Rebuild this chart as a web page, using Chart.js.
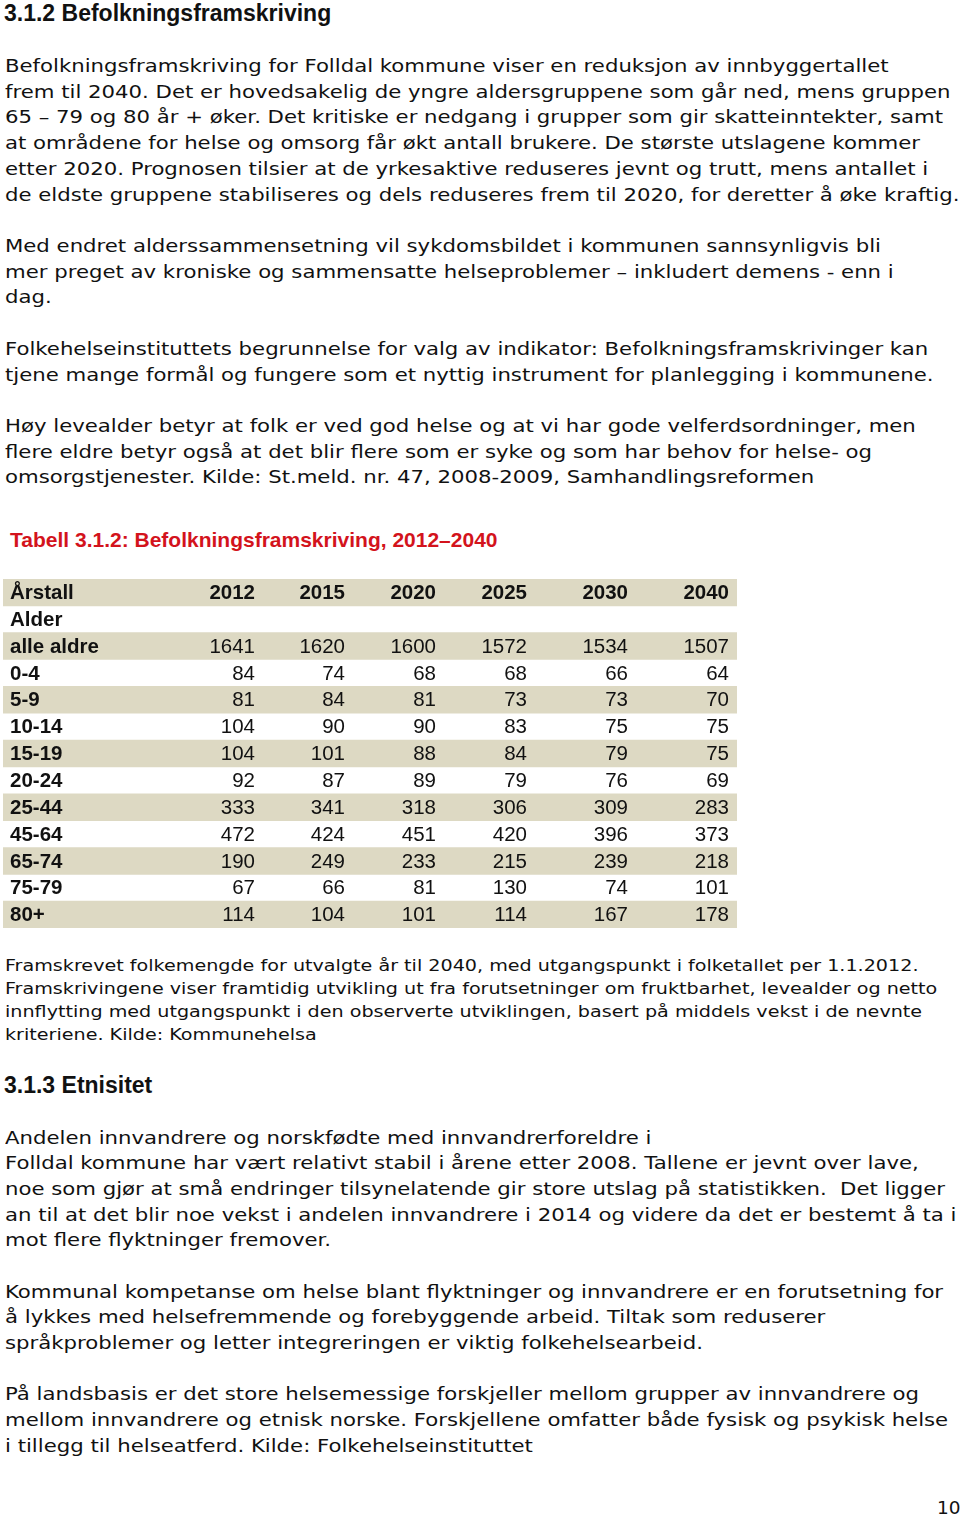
<!DOCTYPE html>
<html lang="no">
<head>
<meta charset="utf-8">
<script src="https://cdn.jsdelivr.net/npm/chart.js@4"></script>
<style>
  html, body { margin: 0; padding: 0; background: #fff; }
  body { width: 960px; height: 1518px; position: relative; overflow: hidden; }
  .ln { position: absolute; left: 5px; white-space: nowrap; font-family: "DejaVu Sans", Verdana, sans-serif; font-size: 18.5px; line-height: 26px; color: #111; transform: scaleX(1.147); transform-origin: 0 50%; }
  .sm { font-size: 16.5px; line-height: 23px; transform: scaleX(1.16); }
  .h { position: absolute; left: 4px; white-space: nowrap; font-family: "Liberation Sans", Arial, sans-serif; font-weight: bold; font-size: 23px; line-height: 28px; color: #111; }
  .cap { position: absolute; left: 10px; white-space: nowrap; font-family: "Liberation Sans", Arial, sans-serif; font-weight: bold; font-size: 21px; line-height: 26px; color: #d3131c; }
  #tbl { position: absolute; left: 3px; top: 579px; width: 734px; height: 349px; }
</style>
</head>
<body>
<div class="h" style="top:-1px">3.1.2 Befolkningsframskriving</div>

<div class="ln" style="top:53px">Befolkningsframskriving for Folldal kommune viser en reduksjon av innbyggertallet</div>
<div class="ln" style="top:79px">frem til 2040. Det er hovedsakelig de yngre aldersgruppene som går ned, mens gruppen</div>
<div class="ln" style="top:104px">65 – 79 og 80 år + øker. Det kritiske er nedgang i grupper som gir skatteinntekter, samt</div>
<div class="ln" style="top:130px">at områdene for helse og omsorg får økt antall brukere. De største utslagene kommer</div>
<div class="ln" style="top:156px">etter 2020. Prognosen tilsier at de yrkesaktive reduseres jevnt og trutt, mens antallet i</div>
<div class="ln" style="top:182px">de eldste gruppene stabiliseres og dels reduseres frem til 2020, for deretter å øke kraftig.</div>

<div class="ln" style="top:233px">Med endret alderssammensetning vil sykdomsbildet i kommunen sannsynligvis bli</div>
<div class="ln" style="top:259px">mer preget av kroniske og sammensatte helseproblemer – inkludert demens - enn i</div>
<div class="ln" style="top:284px">dag.</div>

<div class="ln" style="top:336px">Folkehelseinstituttets begrunnelse for valg av indikator: Befolkningsframskrivinger kan</div>
<div class="ln" style="top:362px">tjene mange formål og fungere som et nyttig instrument for planlegging i kommunene.</div>

<div class="ln" style="top:413px">Høy levealder betyr at folk er ved god helse og at vi har gode velferdsordninger, men</div>
<div class="ln" style="top:439px">flere eldre betyr også at det blir flere som er syke og som har behov for helse- og</div>
<div class="ln" style="top:464px">omsorgstjenester. Kilde: St.meld. nr. 47, 2008-2009, Samhandlingsreformen</div>

<div class="cap" style="top:527px">Tabell 3.1.2: Befolkningsframskriving, 2012–2040</div>

<div id="tbl"><canvas id="tableChart"></canvas></div>

<div class="ln sm" style="top:954px">Framskrevet folkemengde for utvalgte år til 2040, med utgangspunkt i folketallet per 1.1.2012.</div>
<div class="ln sm" style="top:977px">Framskrivingene viser framtidig utvikling ut fra forutsetninger om fruktbarhet, levealder og netto</div>
<div class="ln sm" style="top:1000px">innflytting med utgangspunkt i den observerte utviklingen, basert på middels vekst i de nevnte</div>
<div class="ln sm" style="top:1023px">kriteriene. Kilde: Kommunehelsa</div>

<div class="h" style="top:1071px">3.1.3 Etnisitet</div>

<div class="ln" style="top:1125px">Andelen innvandrere og norskfødte med innvandrerforeldre i</div>
<div class="ln" style="top:1150px">Folldal kommune har vært relativt stabil i årene etter 2008. Tallene er jevnt over lave,</div>
<div class="ln" style="top:1176px">noe som gjør at små endringer tilsynelatende gir store utslag på statistikken.&nbsp; Det ligger</div>
<div class="ln" style="top:1202px">an til at det blir noe vekst i andelen innvandrere i 2014 og videre da det er bestemt å ta i</div>
<div class="ln" style="top:1227px">mot flere flyktninger fremover.</div>

<div class="ln" style="top:1279px">Kommunal kompetanse om helse blant flyktninger og innvandrere er en forutsetning for</div>
<div class="ln" style="top:1304px">å lykkes med helsefremmende og forebyggende arbeid. Tiltak som reduserer</div>
<div class="ln" style="top:1330px">språkproblemer og letter integreringen er viktig folkehelsearbeid.</div>

<div class="ln" style="top:1381px">På landsbasis er det store helsemessige forskjeller mellom grupper av innvandrere og</div>
<div class="ln" style="top:1407px">mellom innvandrere og etnisk norske. Forskjellene omfatter både fysisk og psykisk helse</div>
<div class="ln" style="top:1433px">i tillegg til helseatferd. Kilde: Folkehelseinstituttet</div>

<div class="ln" style="top:1495px; left:937px; transform:none">10</div>

<script>
// ── Data ──────────────────────────────────────────────────────────────────
const years = ['2012', '2015', '2020', '2025', '2030', '2040'];
const ageGroups = ['alle aldre', '0-4', '5-9', '10-14', '15-19', '20-24', '25-44', '45-64', '65-74', '75-79', '80+'];
const pop2012 = [1641, 84, 81, 104, 104, 92, 333, 472, 190, 67, 114];
const pop2015 = [1620, 74, 84, 90, 101, 87, 341, 424, 249, 66, 104];
const pop2020 = [1600, 68, 81, 90, 88, 89, 318, 451, 233, 81, 101];
const pop2025 = [1572, 68, 73, 83, 84, 79, 306, 420, 215, 130, 114];
const pop2030 = [1534, 66, 73, 75, 79, 76, 309, 396, 239, 74, 167];
const pop2040 = [1507, 64, 70, 75, 75, 69, 283, 373, 218, 101, 178];
const series = [pop2012, pop2015, pop2020, pop2025, pop2030, pop2040];

// ── Table layout (rows on the y category scale) ───────────────────────────
const rowLabels = ['Årstall', 'Alder'].concat(ageGroups);
const rows = rowLabels.map((label, i) => {
  if (i === 0) return { label, cells: years, bold: true };
  if (i === 1) return { label, cells: [], bold: true };
  return { label, cells: series.map(s => String(s[i - 2])), bold: false };
});

const TABLE_W = 734;
const colRight = [252, 342, 433, 524, 625, 726];   // x positions in scale units
const labelLeft = 7;
const bandColor = '#ddd9c3';
const fontFam = '"Liberation Sans", Arial, sans-serif';

const cellText = {
  id: 'cellText',
  afterDatasetsDraw(chart) {
    const { ctx, scales: { x, y } } = chart;
    ctx.save();
    ctx.textBaseline = 'middle';
    ctx.fillStyle = '#111';
    rows.forEach((r, i) => {
      const py = y.getPixelForValue(i) + 1;
      ctx.font = 'bold 20.5px ' + fontFam;
      ctx.textAlign = 'left';
      ctx.fillText(r.label, x.getPixelForValue(labelLeft), py);
      ctx.font = (r.bold ? 'bold ' : '') + '20.5px ' + fontFam;
      ctx.textAlign = 'right';
      r.cells.forEach((c, j) => ctx.fillText(c, x.getPixelForValue(colRight[j]), py));
    });
    ctx.restore();
  }
};

new Chart(document.getElementById('tableChart'), {
  type: 'bar',
  data: {
    labels: rowLabels,
    datasets: [{
      data: rowLabels.map((_, i) => (i % 2 === 0 ? TABLE_W : null)),
      backgroundColor: bandColor,
      borderWidth: 0,
      barPercentage: 1,
      categoryPercentage: 1
    }]
  },
  options: {
    indexAxis: 'y',
    responsive: true,
    maintainAspectRatio: false,
    animation: false,
    layout: { padding: 0 },
    plugins: { legend: { display: false }, tooltip: { enabled: false } },
    scales: {
      x: { type: 'linear', display: false, min: 0, max: TABLE_W },
      y: { type: 'category', display: false, offset: true }
    }
  },
  plugins: [cellText]
});
</script>
</body>
</html>
